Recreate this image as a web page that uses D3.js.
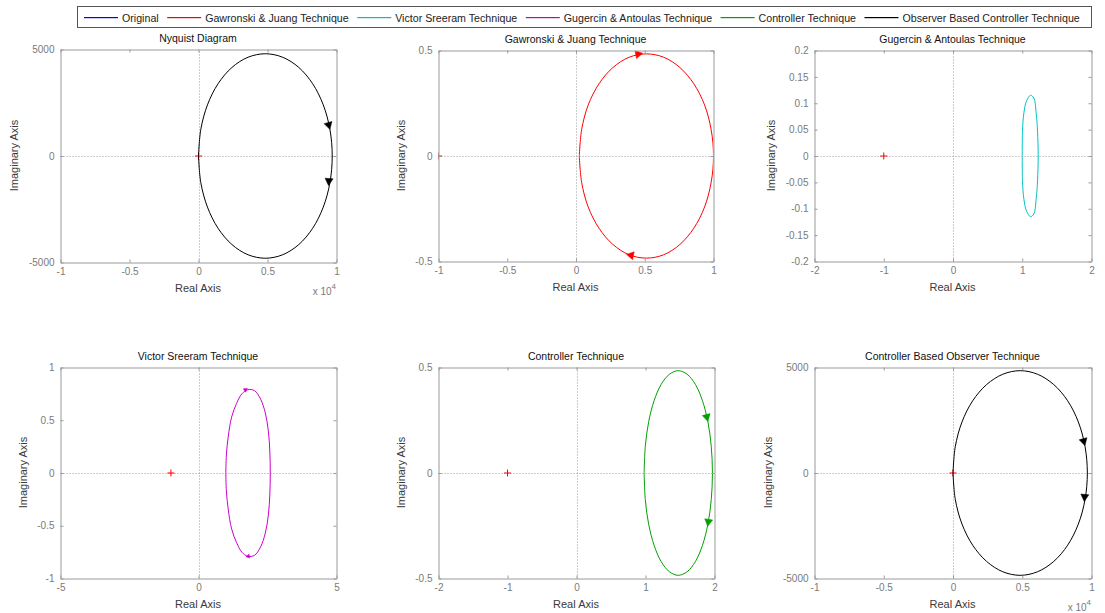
<!DOCTYPE html>
<html>
<head>
<meta charset="utf-8">
<script src="https://cdn.jsdelivr.net/npm/d3@7"></script>
<style>
  html, body { margin: 0; padding: 0; background: #fff; }
  svg { display: block; font-family: "Liberation Sans", Arial, sans-serif; }
</style>
</head>
<body>
<svg id="chart" width="1105" height="613"></svg>
<script>
// ---- Legend ----
const legendNames = ["Original", "Gawronski & Juang Technique", "Victor Sreeram Technique",
  "Gugercin & Antoulas Technique", "Controller Technique", "Observer Based Controller Technique"];

// ---- Panel titles ----
const panelTitles = ["Nyquist Diagram", "Gawronski & Juang Technique", "Gugercin & Antoulas Technique",
  "Victor Sreeram Technique", "Controller Technique", "Controller Based Observer Technique"];

// ---- Frequency response, positive-frequency branch (real, imag), from DC to high frequency ----
const originalBranch = [[9690, 0], [9525, -1243], [9041, -2400], [8271, -3394], [7268, -4157], [6099, -4637],
  [4845, -4800], [3591, -4637], [2423, -4157], [1419, -3394], [649, -2400], [165, -1243], [0, 0]];
const gawronskiBranch = [[1.0, 0], [0.983, -0.125], [0.935, -0.242], [0.857, -0.342], [0.756, -0.419], [0.638, -0.468],
  [0.512, -0.484], [0.386, -0.468], [0.268, -0.419], [0.167, -0.342], [0.089, -0.242], [0.041, -0.125], [0.024, 0]];
const gugercinBranch = [[1.23, 0], [1.22, -0.049], [1.201, -0.081], [1.167, -0.110], [1.119, -0.115],
  [1.061, -0.104], [1.023, -0.081], [1.004, -0.049], [1.0, 0]];
const victorBranch = [[2.6, 0], [2.585, -0.2], [2.53, -0.4], [2.42, -0.57], [2.25, -0.7], [2.03, -0.78],
  [1.79, -0.79], [1.57, -0.75], [1.38, -0.66], [1.2, -0.53], [1.08, -0.35], [1.01, -0.17], [0.99, 0]];
const controllerBranch = [[1.97, 0], [1.953, -0.126], [1.904, -0.243], [1.825, -0.343], [1.723, -0.42], [1.603, -0.468],
  [1.475, -0.485], [1.347, -0.468], [1.227, -0.42], [1.125, -0.343], [1.046, -0.243], [0.997, -0.126], [0.98, 0]];
const observerBranch = [[9700, 0], [9535, -1250], [9050, -2420], [8280, -3420], [7275, -4190], [6105, -4680],
  [4850, -4850], [3595, -4680], [2425, -4190], [1420, -3420], [650, -2420], [165, -1250], [0, 0]];

// ---- Direction arrows on the contours (real, imag) ----
const originalArrows = [[9444, 1432], [9444, -1197]];
const gawronskiArrows = [[0.456, 0.483], [0.396, -0.47]];
const gugercinArrows = [];
const victorArrows = [[1.71, 0.79], [1.79, -0.79]];
const controllerArrows = [[1.89, 0.263], [1.91, -0.234]];
const observerArrows = [[9447, 1486], [9500, -1159]];

// ---- Critical point ----
const criticalPoint = [-1, 0];

// ---- Axis ticks and labels ----
const xTicksE4 = [-10000, -5000, 0, 5000, 10000];
const xLabelsE4 = ["-1", "-0.5", "0", "0.5", "1"];
const yTicks5000 = [-5000, 0, 5000];
const yLabels5000 = ["-5000", "0", "5000"];
const xTicksUnit = [-1, -0.5, 0, 0.5, 1];
const xLabelsUnit = ["-1", "-0.5", "0", "0.5", "1"];
const yTicksHalf = [-0.5, 0, 0.5];
const yLabelsHalf = ["-0.5", "0", "0.5"];
const xTicksTwo = [-2, -1, 0, 1, 2];
const xLabelsTwo = ["-2", "-1", "0", "1", "2"];
const yTicksFine = [-0.2, -0.15, -0.1, -0.05, 0, 0.05, 0.1, 0.15, 0.2];
const yLabelsFine = ["-0.2", "-0.15", "-0.1", "-0.05", "0", "0.05", "0.1", "0.15", "0.2"];
const xTicksFive = [-5, 0, 5];
const xLabelsFive = ["-5", "0", "5"];
const yTicksOne = [-1, -0.5, 0, 0.5, 1];
const yLabelsOne = ["-1", "-0.5", "0", "0.5", "1"];

// ---- Styling ----
const legendColors = ["#0000ff", "#ff0000", "#00bfbf", "#bf00bf", "#00a000", "#000000"];
const AXIS_COLOR = "#9a9a9a";
const TICK_TEXT = "#7a7a7a";
const LABEL_TEXT = "#3a3a3a";

const panels = [
  { title: panelTitles[0], branch: originalBranch, arrows: originalArrows, color: "#000000", arrowScale: 1,
    box: [60, 49, 336, 262], xDomain: [-10000, 10000], yDomain: [-5000, 5000],
    xTicks: xTicksE4, xLabels: xLabelsE4, yTicks: yTicks5000, yLabels: yLabels5000, exponent: "4" },
  { title: panelTitles[1], branch: gawronskiBranch, arrows: gawronskiArrows, color: "#ff0000", arrowScale: 1,
    box: [438, 50, 713, 261], xDomain: [-1, 1], yDomain: [-0.5, 0.5],
    xTicks: xTicksUnit, xLabels: xLabelsUnit, yTicks: yTicksHalf, yLabels: yLabelsHalf },
  { title: panelTitles[2], branch: gugercinBranch, arrows: gugercinArrows, color: "#00c4c4", arrowScale: 0.6,
    box: [814, 50, 1091, 261], xDomain: [-2, 2], yDomain: [-0.2, 0.2],
    xTicks: xTicksTwo, xLabels: xLabelsTwo, yTicks: yTicksFine, yLabels: yLabelsFine },
  { title: panelTitles[3], branch: victorBranch, arrows: victorArrows, color: "#cc00cc", arrowScale: 0.5,
    box: [60, 367, 336, 578], xDomain: [-5, 5], yDomain: [-1, 1],
    xTicks: xTicksFive, xLabels: xLabelsFive, yTicks: yTicksOne, yLabels: yLabelsOne },
  { title: panelTitles[4], branch: controllerBranch, arrows: controllerArrows, color: "#00a000", arrowScale: 1,
    box: [438, 367, 714, 578], xDomain: [-2, 2], yDomain: [-0.5, 0.5],
    xTicks: xTicksTwo, xLabels: xLabelsTwo, yTicks: yTicksHalf, yLabels: yLabelsHalf },
  { title: panelTitles[5], branch: observerBranch, arrows: observerArrows, color: "#000000", arrowScale: 1,
    box: [814, 367, 1091, 578], xDomain: [-10000, 10000], yDomain: [-5000, 5000],
    xTicks: xTicksE4, xLabels: xLabelsE4, yTicks: yTicks5000, yLabels: yLabels5000, exponent: "4" }
];

const svg = d3.select("#chart");
const defs = svg.append("defs");

// Full Nyquist contour: negative frequencies (mirror image) followed by positive ones.
function fullContour(branch) {
  const upper = branch.slice().reverse().map(([re, im]) => [re, -im]);
  return upper.concat(branch.slice(1));
}

panels.forEach((p, idx) => {
  const [L, T, R, B] = p.box;
  const x = d3.scaleLinear().domain(p.xDomain).range([L + 0.5, R + 0.5]);
  const y = d3.scaleLinear().domain(p.yDomain).range([B + 0.5, T + 0.5]);
  const g = svg.append("g");

  defs.append("clipPath").attr("id", "clip" + idx)
    .append("rect").attr("x", L + 0.5).attr("y", T + 0.5).attr("width", R - L).attr("height", B - T);

  // zero lines
  g.append("line").attr("x1", x.range()[0]).attr("x2", x.range()[1]).attr("y1", Math.round(y(0)) + 0.5).attr("y2", Math.round(y(0)) + 0.5)
    .attr("stroke", "#9a9a9a").attr("stroke-dasharray", "1,2");
  g.append("line").attr("y1", y.range()[0]).attr("y2", y.range()[1]).attr("x1", Math.round(x(0)) + 0.5).attr("x2", Math.round(x(0)) + 0.5)
    .attr("stroke", "#9a9a9a").attr("stroke-dasharray", "1,2");

  const plot = g.append("g").attr("clip-path", `url(#clip${idx})`);

  // critical point (-1, 0)
  const cx = x(criticalPoint[0]), cy = y(criticalPoint[1]);
  plot.append("path").attr("d", `M${cx - 3.5},${cy}H${cx + 3.5}M${cx},${cy - 3.5}V${cy + 3.5}`)
    .attr("stroke", "#ff0000").attr("stroke-width", 1).attr("fill", "none");

  // contour
  const pts = fullContour(p.branch);
  const line = d3.line().x(d => x(d[0])).y(d => y(d[1])).curve(d3.curveCatmullRom.alpha(0.5));
  plot.append("path").attr("d", line(pts)).attr("fill", "none").attr("stroke", p.color).attr("stroke-width", 1);

  // direction arrows, oriented along the contour's travel direction
  const px = pts.map(d => [x(d[0]), y(d[1])]);
  p.arrows.forEach(a => {
    const ax = x(a[0]), ay = y(a[1]);
    let best = 0, bestD = Infinity;
    for (let i = 0; i < px.length - 1; i++) {
      const mx = (px[i][0] + px[i + 1][0]) / 2, my = (px[i][1] + px[i + 1][1]) / 2;
      const d = (mx - ax) ** 2 + (my - ay) ** 2;
      if (d < bestD) { bestD = d; best = i; }
    }
    const ang = Math.atan2(px[best + 1][1] - px[best][1], px[best + 1][0] - px[best][0]) * 180 / Math.PI;
    const s = p.arrowScale;
    plot.append("path").attr("d", `M${4 * s},0L${-3 * s},${-4 * s}L${-3 * s},${4 * s}Z`)
      .attr("transform", `translate(${ax},${ay}) rotate(${ang})`)
      .attr("fill", p.color).attr("stroke", p.color).attr("stroke-width", 0.5);
  });

  // axes box with inward ticks
  const styleAxis = sel => {
    sel.selectAll(".domain").attr("stroke", AXIS_COLOR);
    sel.selectAll(".tick line").attr("stroke", AXIS_COLOR);
    sel.selectAll("text").attr("fill", TICK_TEXT).attr("font-size", 10)
      .attr("font-family", '"Liberation Sans", Arial, sans-serif');
    sel.attr("font-family", null).attr("font-size", null);
  };
  g.append("g").attr("transform", `translate(0,${B + 0.5})`)
    .call(d3.axisBottom(x).tickValues(p.xTicks).tickFormat((d, i) => p.xLabels[i]).tickSizeInner(-3).tickSizeOuter(0).tickPadding(5))
    .call(styleAxis);
  g.append("g").attr("transform", `translate(0,${T + 0.5})`)
    .call(d3.axisTop(x).tickValues(p.xTicks).tickFormat("").tickSizeInner(-3).tickSizeOuter(0))
    .call(styleAxis);
  const yAxisG = g.append("g").attr("transform", `translate(${L + 0.5},0)`)
    .call(d3.axisLeft(y).tickValues(p.yTicks).tickFormat((d, i) => p.yLabels[i]).tickSizeInner(-3).tickSizeOuter(0).tickPadding(6))
    .call(styleAxis);
  g.append("g").attr("transform", `translate(${R + 0.5},0)`)
    .call(d3.axisRight(y).tickValues(p.yTicks).tickFormat("").tickSizeInner(-3).tickSizeOuter(0))
    .call(styleAxis);

  // title
  g.append("text").attr("x", (L + R) / 2).attr("y", T - 7).attr("text-anchor", "middle")
    .attr("font-size", 10.5).attr("fill", "#111").text(p.title);

  // axis labels
  g.append("text").attr("x", (L + R) / 2).attr("y", B + 30).attr("text-anchor", "middle")
    .attr("font-size", 11).attr("fill", LABEL_TEXT).text("Real Axis");
  let maxW = 0;
  yAxisG.selectAll("text").each(function () { maxW = Math.max(maxW, this.getComputedTextLength()); });
  const lx = L - 6 - maxW - 10;
  g.append("text").attr("transform", `translate(${lx},${(T + B) / 2}) rotate(-90)`).attr("text-anchor", "middle")
    .attr("font-size", 11).attr("fill", LABEL_TEXT).text("Imaginary Axis");

  // exponent note
  if (p.exponent) {
    const t = g.append("text").attr("x", R).attr("y", B + 33).attr("text-anchor", "end")
      .attr("font-size", 10).attr("fill", TICK_TEXT);
    t.append("tspan").text("x 10");
    t.append("tspan").attr("dy", -6).attr("font-size", 8).text(p.exponent);
  }
});

// ---- Legend ----
const lg = svg.append("g");
lg.append("rect").attr("x", 77.5).attr("y", 6.5).attr("width", 1014).attr("height", 21)
  .attr("fill", "#fff").attr("stroke", "#555");
let lxPos = 84;
legendNames.forEach((name, i) => {
  lg.append("rect").attr("x", lxPos).attr("y", 17).attr("width", 34).attr("height", 1.2)
    .attr("fill", legendColors[i]).style("fill", legendColors[i]);
  const t = lg.append("text").attr("x", lxPos + 38).attr("y", 21.5).attr("font-size", 10.65).attr("fill", "#222").text(name);
  lxPos = lxPos + 38 + t.node().getComputedTextLength() + 8.5;
});
</script>
</body>
</html>
